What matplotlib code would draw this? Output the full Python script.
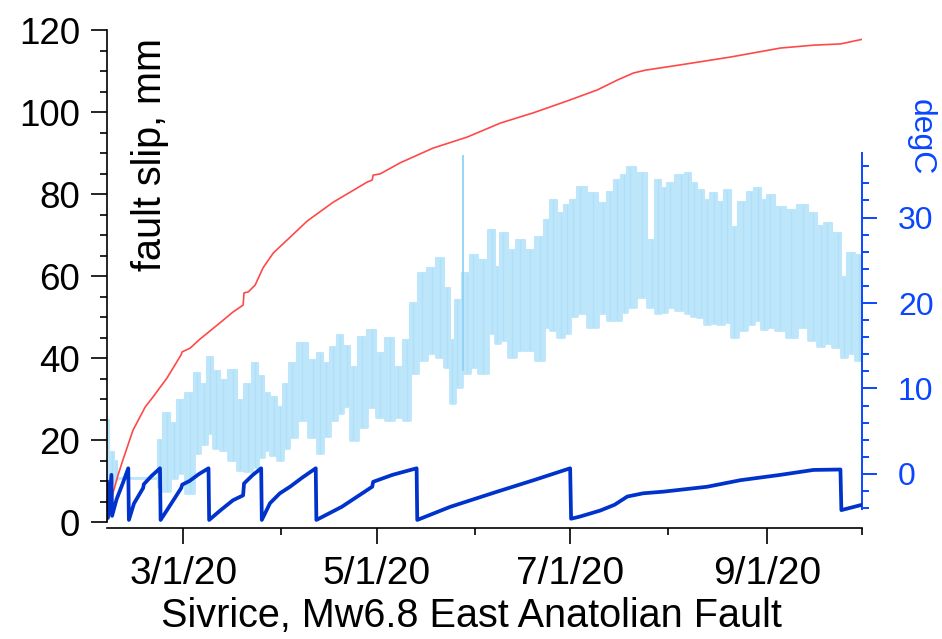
import numpy as np
import matplotlib
matplotlib.use("Agg")
import matplotlib.pyplot as plt
import matplotlib.dates as mdates
from matplotlib.ticker import MultipleLocator, FuncFormatter

plt.rcParams['font.family'] = ['Liberation Sans', 'DejaVu Sans']

# days counted from 2020-01-01
red_day = [36.0, 36.9, 37.9, 39.5, 41.0, 44.2, 47.4, 48.0, 50.5, 54.9, 59.3, 59.7,
           62.2, 65.3, 70.7, 75.7, 78.9, 79.2, 80.5, 82.7, 85.2, 88.4, 92.8, 99.1,
           107.3, 118.0, 119.6, 119.9, 122.1, 128.4, 138.8, 149.6, 160.0, 170.4,
           181.1, 190.6, 196.9, 201.9, 205.7, 216.8, 232.5, 248.3, 258.7, 267.2, 274.5]
red_mm = [0.25, 4.1, 7.1, 11.5, 15.1, 22.4, 27.1, 28.0, 30.5, 35.1, 40.7, 41.5,
          42.4, 44.6, 48.0, 51.2, 52.9, 55.9, 56.1, 57.8, 62.0, 65.6, 68.8, 73.4,
          78.0, 82.9, 83.4, 84.6, 84.9, 87.6, 91.2, 93.9, 97.3, 99.8,
          102.7, 105.4, 107.8, 109.5, 110.2, 111.5, 113.4, 115.6, 116.3, 116.6, 117.8]

saw_day = [36.0, 36.3, 37.4, 37.6, 39.0, 41.0, 42.7, 42.9,
           44.5, 47.4, 47.6, 50.0, 52.7, 52.9,
           55.0, 57.5, 59.4, 59.7, 62.0, 65.0, 68.0, 68.2,
           72.0, 75.7, 78.9, 79.2, 82.0, 84.6, 84.8,
           87.4, 90.5, 93.7, 97.5, 101.8, 102.0,
           110.0, 119.6, 119.9, 126.0, 133.6, 133.8,
           144.2, 159.0, 170.5, 182.0, 182.3,
           185.0, 191.5, 196.0, 200.0, 205.0, 211.4, 225.2, 235.7, 248.3, 258.7,
           267.2, 267.5, 274.0]
saw_mm = [9.8, 1.0, 11.5, 1.5, 5.5, 9.5, 13.1, 0.5,
          4.5, 8.3, 9.2, 11.2, 13.1, 0.5,
          3.0, 6.0, 8.3, 9.1, 10.0, 11.7, 13.1, 0.5,
          3.0, 5.3, 6.5, 9.4, 11.5, 13.1, 0.5,
          4.6, 7.0, 8.6, 10.8, 13.1, 0.5,
          3.7, 8.6, 9.8, 11.5, 13.1, 0.5,
          3.7, 7.4, 10.2, 13.1, 0.8,
          1.3, 2.8, 4.2, 6.2, 7.0, 7.4, 8.6, 10.2, 11.5, 12.7,
          12.8, 2.9, 4.2]

temp_day = [36.0, 37.5, 38.8, 39.5, 43.0, 47.0, 51.5, 52.7, 54.9, 57.0,
            59.0, 62.2, 64.4, 66.5, 68.5, 70.5, 72.6, 75.7, 78.0, 80.5,
            82.7, 84.5, 86.5, 88.5, 90.6, 92.5, 94.4, 97.5, 101.0, 103.2,
            105.0, 107.3, 109.5, 111.5, 113.6, 116.4, 119.6, 122.1, 125.3, 127.8,
            130.6, 132.5, 135.4, 138.5, 141.0, 143.3, 144.8, 146.4, 149.6, 151.5,
            154.6, 157.5, 159.0, 160.9, 163.8, 166.3, 169.4, 172.6, 174.8, 176.7,
            179.0, 181.1, 183.0, 185.2, 189.3, 192.5, 194.5, 196.9, 199.0, 201.0,
            204.8, 207.9, 209.8, 211.5, 213.6, 216.8, 219.3, 221.0, 223.1, 225.0,
            227.2, 229.5, 231.6, 233.5, 236.6, 239.0, 241.1, 243.0, 245.1, 248.3,
            251.5, 255.3, 258.7, 261.0, 263.1, 266.3, 268.2, 270.4, 272.9, 274.0]
temp_lo = [-0.9, -1.0, -0.6, -0.5, -0.5, -0.5, -0.5, -1.5, -2.0, -0.5,
           0.1, -2.2, 2.4, 3.5, 4.8, 3.0, 2.8, 1.6, 0.5, 0.3,
           0.8, 2.0, 2.8, 2.2, 1.6, 3.0, 4.3, 6.3, 4.3, 2.4,
           4.5, 6.3, 7.1, 8.0, 4.0, 5.5, 7.8, 6.7, 6.3, 6.7,
           6.3, 11.8, 13.3, 14.1, 13.7, 12.5, 8.3, 10.2, 11.8, 12.5,
           11.8, 16.5, 15.3, 15.7, 13.7, 14.5, 14.5, 13.3, 17.2, 16.8,
           16.0, 16.5, 18.5, 18.8, 17.2, 18.8, 18.0, 18.0, 19.0, 19.5,
           20.7, 19.5, 18.8, 19.0, 19.5, 19.2, 18.8, 18.5, 18.4, 17.5,
           17.7, 17.5, 17.8, 16.0, 16.8, 17.5, 18.0, 17.0, 17.2, 16.8,
           16.0, 17.2, 15.7, 15.0, 15.3, 14.9, 13.7, 14.1, 13.3, 15.0]
temp_hi = [6.3, 2.6, 1.5, -0.5, -0.5, -0.5, -0.5, 4.0, 7.1, 6.0,
           8.7, 9.5, 11.8, 10.5, 13.7, 12.0, 11.0, 12.2, 8.7, 10.5,
           13.0, 11.5, 9.5, 9.0, 7.8, 10.5, 13.0, 15.3, 13.3, 14.1,
           13.0, 14.9, 16.3, 15.0, 12.5, 16.0, 16.8, 14.1, 15.9, 12.5,
           15.7, 20.0, 23.5, 24.1, 25.3, 21.8, 15.7, 20.4, 23.5, 25.6,
           25.0, 28.5, 24.2, 28.2, 26.2, 27.4, 26.2, 27.7, 29.7, 32.0,
           30.5, 31.5, 32.0, 33.6, 32.9, 31.7, 33.0, 34.4, 35.0, 35.9,
           35.2, 27.4, 34.4, 33.5, 34.0, 35.0, 35.2, 34.0, 33.2, 32.0,
           32.9, 31.8, 33.2, 28.9, 31.8, 33.0, 33.5, 32.0, 32.6, 31.2,
           30.9, 31.5, 30.5, 29.0, 29.4, 28.2, 23.0, 25.8, 25.6, 22.0]

# single spike in the temperature record
spike_day = [148.3]
spike_lo = [12.0]
spike_hi = [37.3]

x_ticks = ['2020-03-01', '2020-05-01', '2020-07-01', '2020-09-01']

RED = '#ff4848'
SAW = '#0033cc'
LIGHT = '#bde6fb'
AXBLUE = '#0a46ff'

day0 = mdates.date2num(np.datetime64('2020-01-01'))


def to_num(days):
    return day0 + np.asarray(days, dtype=float)


W, H = 942, 639


def box(x0, x1, y_top, y_bot):
    return [x0 / W, 1 - y_bot / H, (x1 - x0) / W, (y_bot - y_top) / H]


fig = plt.figure(figsize=(W / 100, H / 100), dpi=100)
ax_t = fig.add_axes(box(107, 862, 153.4, 508.6))
ax = fig.add_axes(box(107, 862, 30, 522))
ax.patch.set_visible(False)
xlim = to_num([36, 274])

# temperature band on its own short right-hand axis
td = to_num(temp_day)
ax_t.fill_between(td, temp_lo, temp_hi, step='mid', color=LIGHT, lw=0)
ax_t.step(td, temp_lo, where='mid', color=LIGHT, lw=2.0)
ax_t.step(td, temp_hi, where='mid', color=LIGHT, lw=1.5)
ax_t.vlines(td, temp_lo, temp_hi, color='#b0e0f9', lw=1.0)
ax_t.vlines(to_num(spike_day), spike_lo, spike_hi, color='#8fd3f6', lw=1.3)
ax_t.set_xlim(xlim)
ax_t.set_ylim(-4.05, 37.5)
for s in ['left', 'top', 'bottom']:
    ax_t.spines[s].set_visible(False)
ax_t.spines['right'].set_color(AXBLUE)
ax_t.spines['right'].set_linewidth(1.4)
ax_t.set_xticks([])
ax_t.yaxis.tick_right()
ax_t.yaxis.set_major_locator(MultipleLocator(10))
ax_t.yaxis.set_minor_locator(MultipleLocator(2))
ax_t.tick_params(axis='y', which='major', length=11, width=1.4, color=AXBLUE,
                 labelcolor=AXBLUE, labelsize=23, pad=15)
ax_t.tick_params(axis='y', which='minor', length=5, width=1.4, color=AXBLUE)

# slip records
ax.plot(to_num(red_day), red_mm, color=RED, lw=1.2)
ax.plot(to_num(saw_day), saw_mm, color=SAW, lw=2.7)
ax.set_xlim(xlim)
ax.set_ylim(0, 120)
ax.spines['top'].set_visible(False)
ax.spines['right'].set_visible(False)
ax.spines['bottom'].set_position(('outward', 4))
for s in ['left', 'bottom']:
    ax.spines[s].set_linewidth(1.2)
ax.yaxis.set_major_locator(MultipleLocator(20))
ax.yaxis.set_minor_locator(MultipleLocator(5))
ax.set_xticks(mdates.date2num(np.array(x_ticks, dtype='datetime64[D]')))
ax.xaxis.set_minor_locator(mdates.MonthLocator(bymonth=[2, 4, 6, 8, 10]))


def date_label(v, pos):
    d = mdates.num2date(v)
    return f"{d.month}/{d.day}/{d.year % 100}"


ax.xaxis.set_major_formatter(FuncFormatter(date_label))
ax.tick_params(axis='y', which='major', length=11.5, width=1.2, labelsize=26.5, pad=8)
ax.tick_params(axis='y', which='minor', length=5, width=1.2)
ax.tick_params(axis='x', which='major', length=11.5, width=1.2, labelsize=28, pad=9)
ax.tick_params(axis='x', which='minor', length=5, width=1.2)

fig.text(150 / W, 1 - 155 / H, 'fault slip, mm', rotation=90, ha='center',
         va='center', fontsize=28.5)
fig.text(471 / W, 1 - 627 / H, 'Sivrice, Mw6.8 East Anatolian Fault', ha='center',
         va='baseline', fontsize=28.5)
fig.text(921 / W, 1 - 137 / H, 'degC', rotation=270, ha='center', va='center',
         fontsize=23, color=AXBLUE)

fig.savefig('out.png', dpi=100)
